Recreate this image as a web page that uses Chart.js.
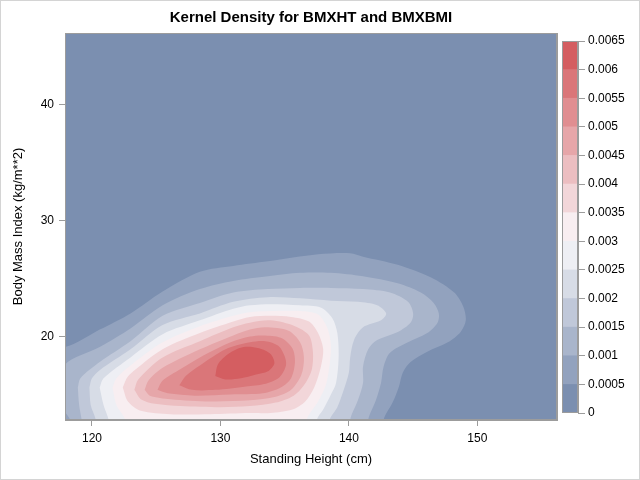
<!DOCTYPE html>
<html>
<head>
<meta charset="utf-8">
<script src="https://cdn.jsdelivr.net/npm/chart.js@4.4.0/dist/chart.umd.min.js"></script>
<style>
  html, body { margin: 0; padding: 0; background: #fff; }
  #wrap { position: relative; width: 640px; height: 480px; }
  #wrap canvas { position: absolute; left: 0; top: 0; }
  #frame { position: absolute; left: 0; top: 0; width: 640px; height: 480px;
           box-sizing: border-box; border: 1px solid #d4d4d4; pointer-events: none; }
</style>
</head>
<body>
<div id="wrap">
  <canvas id="plot" width="640" height="480"></canvas>
  <canvas id="ramp" width="640" height="480"></canvas>
  <div id="frame"></div>
</div>
<script>
// contour levels and the fill colour of each band between them
const levels = [0, 0.0005, 0.001, 0.0015, 0.002, 0.0025, 0.003, 0.0035, 0.004, 0.0045, 0.005, 0.0055, 0.006, 0.0065];
const levelLabels = ['0', '0.0005', '0.001', '0.0015', '0.002', '0.0025', '0.003', '0.0035', '0.004', '0.0045', '0.005', '0.0055', '0.006', '0.0065'];
const bandColors = [
  '#7B8FB0', '#92A2BE', '#A9B5CB', '#C0C8D9', '#D7DCE6', '#EEEFF4', '#F8EEF1',
  '#F2D6D9', '#ECBEC1', '#E6A6A9', '#E08E91', '#DA7679', '#D45E61',
];

const xTicks = [120, 130, 140, 150];
const yTicks = [20, 30, 40];
const xRange = [117.9, 156.2];
const yRange = [12.8, 46.2];

// iso-density outlines [height, bmi] (outer ones run past the axes)
const c0005 = [[112.9, 18.9], [117.9, 19.1], [120.6, 20.6], [123.0, 22.0], [125.5, 23.9], [128.4, 25.6], [131.0, 26.1], [133.7, 26.5], [137.6, 27.1], [140.1, 27.2], [141.1, 26.9], [143.8, 26.2], [146.4, 25.1], [148.2, 23.8], [148.9, 22.6], [149.1, 21.4], [148.7, 20.4], [147.7, 19.5], [146.1, 18.7], [144.8, 17.8], [144.2, 16.9], [143.9, 15.7], [143.4, 14.3], [142.7, 12.8], [142.5, 10.2], [112.9, 10.2]];
const c0010 = [[117.5, 15.4], [117.9, 17.6], [120.6, 19.1], [123.0, 20.7], [125.5, 22.7], [128.4, 24.1], [131.0, 24.8], [133.7, 25.2], [136.2, 25.5], [138.6, 25.5], [141.1, 25.2], [143.8, 24.6], [145.6, 23.8], [146.6, 22.9], [147.0, 22.0], [146.9, 21.2], [146.1, 20.3], [144.6, 19.5], [143.2, 18.6], [142.7, 17.4], [142.5, 16.0], [142.1, 14.5], [141.5, 12.8], [141.3, 10.2], [118.7, 10.2], [118.3, 12.8], [117.8, 13.7]];
const c0015 = [[118.9, 15.6], [119.1, 16.4], [120.6, 17.8], [123.0, 19.6], [125.5, 21.8], [128.4, 22.9], [131.0, 23.8], [133.7, 24.1], [136.2, 24.2], [138.6, 24.2], [141.1, 24.1], [143.2, 23.8], [144.6, 23.0], [145.0, 22.0], [144.8, 21.2], [143.8, 20.4], [142.2, 19.7], [141.5, 18.9], [141.1, 17.4], [141.1, 16.0], [140.7, 14.5], [140.1, 12.8], [140.0, 10.2], [119.5, 10.2], [119.2, 12.8], [119.0, 14.1]];
const c0020 = [[119.8, 15.6], [120.0, 16.4], [120.6, 17.1], [123.0, 18.9], [125.5, 21.0], [128.4, 22.0], [131.0, 23.0], [133.7, 23.4], [136.2, 23.3], [138.6, 23.1], [140.7, 23.0], [142.2, 22.7], [142.9, 22.0], [142.5, 21.4], [141.1, 20.8], [140.4, 19.7], [140.1, 18.2], [140.0, 16.9], [139.6, 15.4], [139.1, 13.9], [138.5, 12.8], [138.3, 10.2], [120.5, 10.2], [120.3, 12.8], [119.9, 14.1]];
const c0025 = [[120.6, 15.6], [120.9, 16.4], [123.0, 18.2], [125.5, 20.2], [128.4, 21.4], [131.0, 22.4], [132.3, 22.7], [133.9, 22.8], [136.2, 22.7], [137.8, 22.5], [138.7, 21.6], [139.1, 20.3], [139.2, 18.2], [139.0, 16.0], [138.6, 15.0], [138.0, 13.7], [137.5, 12.8], [137.3, 10.2], [121.6, 10.2], [121.3, 12.8], [120.9, 14.1]];
const c0030 = [[121.6, 15.6], [121.9, 16.4], [123.0, 17.5], [125.5, 19.5], [128.4, 20.9], [131.0, 21.8], [132.3, 22.1], [133.9, 22.2], [136.2, 22.2], [137.6, 21.9], [138.3, 20.8], [138.6, 19.3], [138.5, 17.6], [138.2, 15.8], [137.6, 14.4], [136.7, 12.8], [136.5, 10.2], [122.8, 10.2], [122.6, 12.8], [121.9, 14.1]];
const c0035 = [[122.4, 15.6], [122.7, 16.4], [123.0, 16.8], [125.5, 18.9], [128.4, 20.3], [131.0, 21.3], [132.3, 21.7], [133.9, 21.8], [135.5, 21.7], [136.9, 21.3], [137.6, 20.3], [138.0, 18.9], [137.8, 17.3], [137.3, 15.6], [136.6, 14.4], [135.6, 13.7], [133.9, 13.4], [132.3, 13.4], [129.2, 13.3], [126.1, 13.3], [123.8, 13.6], [122.8, 14.4]];
const c0040 = [[123.3, 15.4], [123.6, 16.3], [125.5, 18.2], [128.4, 19.6], [131.0, 20.8], [132.3, 21.2], [133.9, 21.4], [135.8, 20.9], [136.9, 20.1], [137.2, 18.7], [137.1, 17.1], [136.5, 15.8], [135.7, 14.9], [134.3, 14.3], [132.3, 14.0], [130.0, 13.9], [126.9, 14.0], [124.9, 14.2], [123.8, 14.6]];
const c0045 = [[124.1, 15.4], [124.4, 16.2], [125.5, 17.3], [128.4, 18.9], [131.0, 20.1], [132.3, 20.6], [133.5, 20.8], [135.3, 20.5], [136.2, 19.5], [136.5, 18.2], [136.3, 16.7], [135.5, 15.4], [134.3, 14.8], [132.3, 14.5], [129.2, 14.4], [126.1, 14.6], [124.5, 14.9]];
const c0050 = [[125.1, 15.4], [125.5, 16.2], [126.9, 17.2], [128.4, 18.2], [130.8, 19.5], [132.3, 20.0], [133.3, 20.1], [134.7, 19.9], [135.6, 19.0], [135.8, 17.8], [135.5, 16.4], [134.7, 15.6], [133.3, 15.1], [130.8, 15.0], [128.0, 14.9], [125.9, 15.1]];
const c0055 = [[126.8, 15.8], [127.3, 16.6], [128.4, 17.5], [130.4, 18.9], [132.3, 19.5], [133.5, 19.6], [134.5, 19.2], [135.0, 18.3], [135.1, 17.5], [134.6, 16.5], [133.4, 15.9], [132.0, 15.7], [129.6, 15.4], [127.8, 15.4]];
const c0060 = [[129.6, 16.6], [129.8, 17.6], [130.6, 18.5], [131.8, 19.1], [133.0, 19.0], [133.9, 18.5], [134.2, 17.7], [133.7, 17.0], [132.7, 16.7], [131.6, 16.4], [130.4, 16.3]];

const contours = [c0005, c0010, c0015, c0020, c0025, c0030, c0035, c0040, c0045, c0050, c0055, c0060];

const axisGray = '#9c9c9c';
Chart.defaults.font.family = "'Liberation Sans', Arial, sans-serif";
Chart.defaults.color = '#000';

// lowest band fills the whole plot area
const areaFill = {
  id: 'areaFill',
  beforeDraw(chart) {
    const a = chart.chartArea;
    const ctx = chart.ctx;
    ctx.save();
    ctx.fillStyle = bandColors[0];
    ctx.fillRect(a.left, a.top, a.right - a.left, a.bottom - a.top);
    ctx.restore();
  },
};

const boxFrame = {
  id: 'boxFrame',
  afterDraw(chart) {
    const a = chart.chartArea;
    const ctx = chart.ctx;
    ctx.save();
    ctx.strokeStyle = axisGray;
    ctx.lineWidth = 1;
    ctx.strokeRect(Math.round(a.left) + 0.5, Math.round(a.top) + 0.5,
      Math.round(a.right - a.left) - 1, Math.round(a.bottom - a.top) - 1);
    ctx.restore();
  },
};

const contourSets = contours.map((pts, i) => ({
  label: levelLabels[i + 1],
  data: pts.concat([pts[0]]).map((p) => ({ x: p[0], y: p[1] })),
  showLine: true,
  fill: 'shape',
  backgroundColor: bandColors[i + 1],
  borderWidth: 0,
  pointRadius: 0,
  tension: 0.3,
  capBezierPoints: false,
  order: contours.length - i, // inner levels paint on top
}));

new Chart(document.getElementById('plot'), {
  type: 'scatter',
  data: { datasets: contourSets },
  options: {
    responsive: false,
    devicePixelRatio: 1,
    animation: false,
    events: [],
    layout: { padding: 0 },
    plugins: { legend: { display: false }, tooltip: { enabled: false }, title: { display: false } },
    scales: {
      x: {
        type: 'linear',
        position: 'bottom',
        min: xRange[0],
        max: xRange[1],
        afterBuildTicks: (s) => { s.ticks = xTicks.map((v) => ({ value: v })); },
        afterFit: (s) => { s.height = 60; },
        grid: { drawOnChartArea: false, tickLength: 6, color: axisGray },
        border: { color: axisGray },
        ticks: { font: { size: 12 }, color: '#000', padding: 5, maxRotation: 0 },
        title: { display: true, text: 'Standing Height (cm)', font: { size: 13 }, color: '#000', padding: { top: 0, bottom: 13 } },
      },
      x2: {
        type: 'linear',
        position: 'top',
        min: xRange[0],
        max: xRange[1],
        afterFit: (s) => { s.height = 33; },
        grid: { display: false },
        border: { color: axisGray },
        ticks: { display: false },
        title: { display: true, text: 'Kernel Density for BMXHT and BMXBMI', font: { size: 15, weight: 'bold' }, color: '#000', padding: { top: 9, bottom: 0 } },
      },
      y: {
        type: 'linear',
        position: 'left',
        min: yRange[0],
        max: yRange[1],
        afterBuildTicks: (s) => { s.ticks = yTicks.map((v) => ({ value: v })); },
        afterFit: (s) => { s.width = 65; },
        grid: { drawOnChartArea: false, tickLength: 6, color: axisGray },
        border: { color: axisGray },
        ticks: { font: { size: 12 }, color: '#000', padding: 5 },
        title: { display: true, text: 'Body Mass Index (kg/m**2)', font: { size: 13 }, color: '#000', padding: { top: 11, bottom: 0 } },
      },
      y2: {
        type: 'linear',
        position: 'right',
        min: yRange[0],
        max: yRange[1],
        afterFit: (s) => { s.width = 83; },
        grid: { display: false },
        border: { color: axisGray },
        ticks: { display: false },
      },
    },
  },
  plugins: [areaFill, boxFrame],
});

// colour ramp legend
const rampSets = bandColors.map((c, i) => ({
  label: levelLabels[i],
  data: [[levels[i], levels[i + 1]]],
  backgroundColor: c,
  borderWidth: 0,
  grouped: false,
  barPercentage: 1,
  categoryPercentage: 1,
}));

new Chart(document.getElementById('ramp'), {
  type: 'bar',
  data: { labels: ['density'], datasets: rampSets },
  options: {
    responsive: false,
    devicePixelRatio: 1,
    animation: false,
    events: [],
    layout: { padding: { left: 562, top: 41, bottom: 67, right: 2 } },
    plugins: { legend: { display: false }, tooltip: { enabled: false } },
    scales: {
      x: { display: false },
      y: {
        position: 'right',
        min: levels[0],
        max: levels[levels.length - 1],
        afterBuildTicks: (s) => { s.ticks = levels.map((v) => ({ value: v })); },
        afterFit: (s) => { s.width = 60; },
        grid: { drawOnChartArea: false, tickLength: 7, color: axisGray },
        border: { color: axisGray },
        ticks: { font: { size: 12 }, color: '#000', padding: 3, callback: (v, i) => levelLabels[i] },
      },
    },
  },
  plugins: [boxFrame],
});
</script>
</body>
</html>
